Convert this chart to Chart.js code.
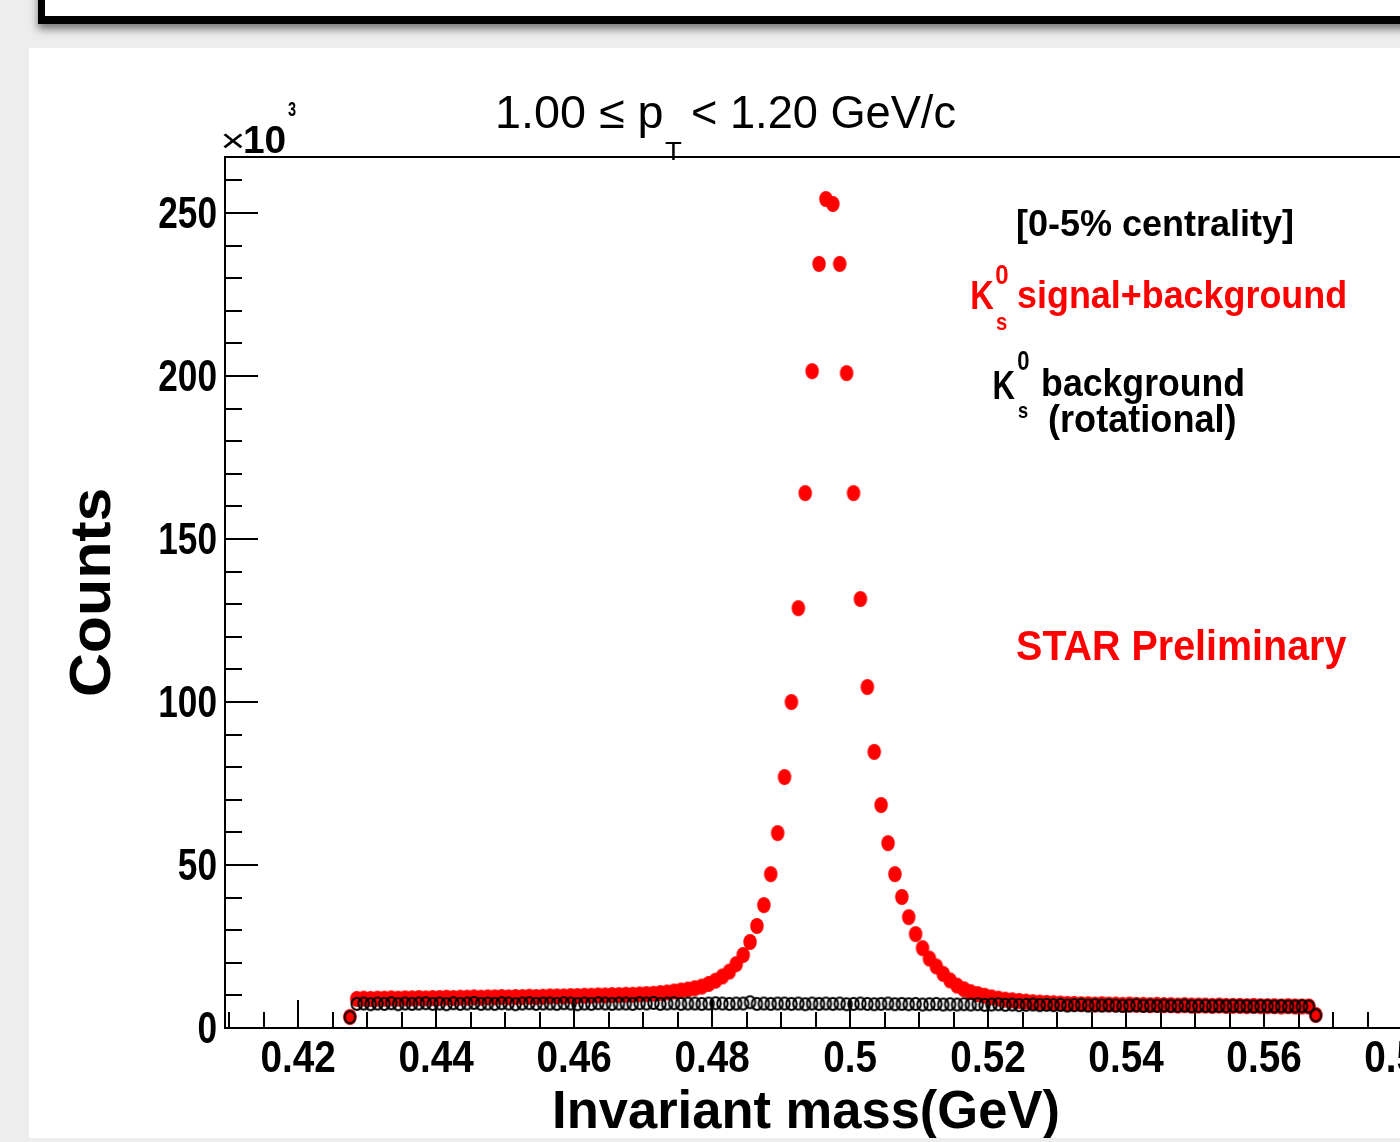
<!DOCTYPE html>
<html>
<head>
<meta charset="utf-8">
<script src="https://cdn.jsdelivr.net/npm/chart.js@4.4.1/dist/chart.umd.min.js"></script>
<style>
  html, body { margin: 0; padding: 0; width: 1400px; height: 1142px; overflow: hidden; background: #ededed; }
  #topbox { position: absolute; left: 38px; top: -12px; width: 1420px; height: 21px; background: #fff;
            border: 7px solid #000; border-bottom-width: 8px; box-shadow: 0 5px 8px rgba(0,0,0,0.5); }
  #panel { position: absolute; left: 29px; top: 48px; width: 1500px; height: 1090px; background: #fff; }
  #chart { position: absolute; left: 0; top: 0; }
</style>
</head>
<body>
<div id="topbox"></div>
<div id="panel"></div>
<canvas id="chart" width="1500" height="1138"></canvas>
<script>
// histogram bins: 1 MeV wide, centres 0.4275 .. 0.5675 GeV
const binFirst = 0.4275;
const binWidth = 0.001;
const nBins = 141;
const massCenters = Array.from({ length: nBins }, (_, i) => +(binFirst + i * binWidth).toFixed(4));

// counts (x10^3), signal + background (red)
const signalPlusBkg = [
  3.4, 8.9, 9.0, 8.9, 9.0, 9.0, 9.1, 9.0, 9.1, 9.1,
  9.2, 9.1, 9.2, 9.2, 9.3, 9.2, 9.3, 9.3, 9.4, 9.3,
  9.4, 9.4, 9.5, 9.4, 9.5, 9.5, 9.6, 9.5, 9.6, 9.7,
  9.7, 9.7, 9.8, 9.8, 9.9, 9.9, 10.0, 10.0, 10.1, 10.1,
  10.2, 10.2, 10.3, 10.4, 10.5, 10.7, 10.9, 11.2, 11.5, 11.8,
  12.2, 12.7, 13.5, 14.5, 15.8, 17.3, 19.6, 22.4, 26.4, 31.3,
  37.7, 47.2, 59.8, 77.0, 100.0, 128.8, 164.1, 201.5, 234.4, 254.3,
  252.8, 234.4, 200.9, 164.1, 131.6, 104.6, 84.7, 68.4, 56.7, 47.2,
  40.2, 34.0, 28.8, 24.5, 21.3, 18.9, 16.6, 14.6, 13.0, 11.9,
  11.0, 10.4, 9.9, 9.4, 9.0, 8.7, 8.5, 8.3, 8.1, 7.9,
  7.8, 7.7, 7.6, 7.5, 7.4, 7.4, 7.3, 7.3, 7.2, 7.3,
  7.2, 7.2, 7.1, 7.2, 7.1, 7.1, 7.0, 7.1, 7.0, 7.0,
  6.9, 7.0, 6.9, 6.9, 6.9, 6.8, 6.9, 6.8, 6.8, 6.8,
  6.7, 6.8, 6.7, 6.7, 6.7, 6.6, 6.7, 6.6, 6.6, 6.6,
  4.0
];

// counts (x10^3), rotational background (black open circles)
const rotBkg = [
  3.3, 7.4, 7.5, 7.3, 7.5, 7.4, 7.6, 7.3, 7.5, 7.4,
  7.5, 7.6, 7.4, 7.5, 7.3, 7.6, 7.4, 7.5, 7.7, 7.4,
  7.5, 7.4, 7.6, 7.5, 7.3, 7.5, 7.6, 7.4, 7.5, 7.5,
  7.4, 7.6, 7.5, 7.3, 7.5, 7.4, 7.6, 7.5, 7.4, 7.5,
  7.5, 7.4, 7.6, 7.5, 7.7, 7.4, 7.5, 7.6, 7.4, 7.5,
  7.5, 7.4, 7.5, 7.6, 7.5, 7.4, 7.5, 7.5, 7.9, 7.4,
  7.5, 7.4, 7.5, 7.5, 7.4, 7.5, 7.3, 7.5, 7.4, 7.5,
  7.4, 7.5, 7.3, 7.4, 7.5, 7.4, 7.3, 7.4, 7.5, 7.3,
  7.4, 7.3, 7.4, 7.2, 7.3, 7.4, 7.2, 7.3, 7.2, 7.3,
  7.2, 7.3, 7.1, 7.2, 7.3, 7.1, 7.2, 7.0, 7.1, 7.2,
  7.0, 7.1, 7.0, 7.1, 6.9, 7.0, 7.1, 6.9, 7.0, 6.9,
  7.0, 6.9, 6.8, 6.9, 7.0, 6.8, 6.9, 6.8, 6.9, 6.8,
  6.8, 6.9, 6.7, 6.8, 6.8, 6.7, 6.8, 6.7, 6.8, 6.7,
  6.7, 6.6, 6.7, 6.7, 6.6, 6.7, 6.6, 6.6, 6.7, 6.6,
  3.9
];

const xTicks = [0.42, 0.44, 0.46, 0.48, 0.50, 0.52, 0.54, 0.56, 0.58];
const yTicks = [0, 50, 100, 150, 200, 250];

const FONT = '"Liberation Sans", Arial, Helvetica, sans-serif';

// ROOT-like markers (slightly taller than wide, like the picture)
function makeDot(w, h, fill, stroke, lw) {
  const c = document.createElement('canvas');
  c.width = Math.ceil(w + 4); c.height = Math.ceil(h + 4);
  const g = c.getContext('2d');
  g.beginPath();
  g.ellipse(c.width / 2, c.height / 2, w / 2, h / 2, 0, 0, Math.PI * 2);
  if (fill) { g.fillStyle = fill; g.fill(); }
  if (stroke) { g.lineWidth = lw; g.strokeStyle = stroke; g.stroke(); }
  return c;
}
const redDot = makeDot(13.5, 16, '#ff0000');
const openDot = makeDot(10.5, 12, null, '#000', 2);

// text squeezed to fit between x0 and x1 (visible glyph box)
function fitText(ctx, s, x0, x1, base, size, bold, color) {
  ctx.save();
  ctx.font = (bold ? 'bold ' : '') + size + 'px ' + FONT;
  const m = ctx.measureText(s);
  const w = m.actualBoundingBoxLeft + m.actualBoundingBoxRight;
  ctx.translate(x0, base);
  ctx.scale((x1 - x0) / w, 1);
  ctx.fillStyle = color;
  ctx.textAlign = 'left';
  ctx.textBaseline = 'alphabetic';
  ctx.fillText(s, m.actualBoundingBoxLeft, 0);
  ctx.restore();
}

function label(ctx, s, x, base, size, align, sx) {
  ctx.save();
  ctx.font = 'bold ' + size + 'px ' + FONT;
  ctx.translate(x, base);
  ctx.scale(sx, 1);
  ctx.fillStyle = '#000';
  ctx.textAlign = align;
  ctx.textBaseline = 'alphabetic';
  ctx.fillText(s, 0, 0);
  ctx.restore();
}

// frame, inward ticks, labels and annotations
const rootFrame = {
  id: 'rootFrame',
  beforeDatasetsDraw(chart) {
    const { ctx, chartArea: a, scales: { x, y } } = chart;
    ctx.save();
    ctx.strokeStyle = '#000';
    ctx.lineWidth = 2;
    ctx.beginPath();
    ctx.rect(a.left, a.top, a.right - a.left, a.bottom - a.top);
    ctx.stroke();

    // x ticks every 0.005, long ones on the labels
    ctx.beginPath();
    for (let k = Math.ceil(x.min / 0.005); k * 0.005 <= x.max; k++) {
      const px = Math.round(x.getPixelForValue(k * 0.005));
      const len = k % 4 === 0 ? 28 : 16;
      ctx.moveTo(px, a.bottom);
      ctx.lineTo(px, a.bottom - len);
    }
    // y ticks every 10
    for (let v = 0; v <= y.max; v += 10) {
      const py = Math.round(y.getPixelForValue(v));
      const len = v % 50 === 0 ? 33 : 17;
      ctx.moveTo(a.left, py);
      ctx.lineTo(a.left + len, py);
    }
    ctx.stroke();

    x.ticks.forEach(t => {
      label(ctx, String(parseFloat(t.value.toFixed(2))), x.getPixelForValue(t.value), 1072, 44, 'center', 0.88);
    });
    y.ticks.forEach(t => {
      label(ctx, String(t.value), 217, y.getPixelForValue(t.value) + 15, 44, 'right', 0.8);
    });
    ctx.restore();
  },
  afterDraw(chart) {
    const ctx = chart.ctx;
    // exponent
    fitText(ctx, '\u00d7', 223, 243, 152, 34, false, '#000');
    fitText(ctx, '10', 245, 285, 153, 38, true, '#000');
    fitText(ctx, '3', 288, 296, 116, 20, true, '#000');

    // title
    fitText(ctx, '1.00 \u2264 p', 498, 662, 128, 46, false, '#000');
    fitText(ctx, 'T', 665, 682, 160, 26, false, '#000');
    fitText(ctx, '< 1.20 GeV/c', 693, 955, 128, 46, false, '#000');

    // annotations
    fitText(ctx, '[0-5% centrality]', 1018, 1292, 236, 36, true, '#000');
    fitText(ctx, 'K', 972, 994, 309, 40, true, '#ff0000');
    fitText(ctx, '0', 996, 1008, 284, 28, true, '#ff0000');
    fitText(ctx, 's', 996, 1007, 330, 24, true, '#ff0000');
    fitText(ctx, 'signal+background', 1018, 1345, 308, 38, true, '#ff0000');
    fitText(ctx, 'K', 994, 1015, 399, 40, true, '#000');
    fitText(ctx, '0', 1018, 1029, 370, 28, true, '#000');
    fitText(ctx, 's', 1018, 1028, 418, 22, true, '#000');
    fitText(ctx, 'background', 1043, 1243, 396, 38, true, '#000');
    fitText(ctx, '(rotational)', 1049, 1235, 432, 38, true, '#000');
    fitText(ctx, 'STAR Preliminary', 1017, 1347, 660, 42, true, '#ff0000');

    // axis titles
    fitText(ctx, 'Invariant mass(GeV)', 555, 1058, 1128, 54, true, '#000');
    ctx.save();
    ctx.translate(110, 695);
    ctx.rotate(-Math.PI / 2);
    fitText(ctx, 'Counts', 0, 205, 0, 58, true, '#000');
    ctx.restore();
  }
};

const ctx = document.getElementById('chart').getContext('2d');
new Chart(ctx, {
  type: 'scatter',
  data: {
    datasets: [
      {
        label: 'K0s background (rotational)',
        data: massCenters.map((m, i) => ({ x: m, y: rotBkg[i] })),
        pointStyle: openDot,
        pointRadius: 6,
        order: 0
      },
      {
        label: 'K0s signal+background',
        data: massCenters.map((m, i) => ({ x: m, y: signalPlusBkg[i] })),
        pointStyle: redDot,
        pointRadius: 7,
        order: 1
      }
    ]
  },
  options: {
    responsive: false,
    animation: false,
    devicePixelRatio: 1,
    layout: { padding: { left: 0, top: 157, right: 29, bottom: 0 } },
    plugins: { legend: { display: false }, tooltip: { enabled: false } },
    scales: {
      x: {
        type: 'linear',
        min: 0.4094,
        max: 0.59,
        grid: { display: false },
        border: { display: false },
        ticks: { display: false },
        afterBuildTicks: s => { s.ticks = xTicks.map(v => ({ value: v })); },
        afterFit: s => { s.height = 110; }
      },
      y: {
        min: 0,
        max: 267.2,
        grid: { display: false },
        border: { display: false },
        ticks: { display: false },
        afterBuildTicks: s => { s.ticks = yTicks.map(v => ({ value: v })); },
        afterFit: s => { s.width = 225; }
      }
    }
  },
  plugins: [rootFrame]
});
</script>
</body>
</html>
